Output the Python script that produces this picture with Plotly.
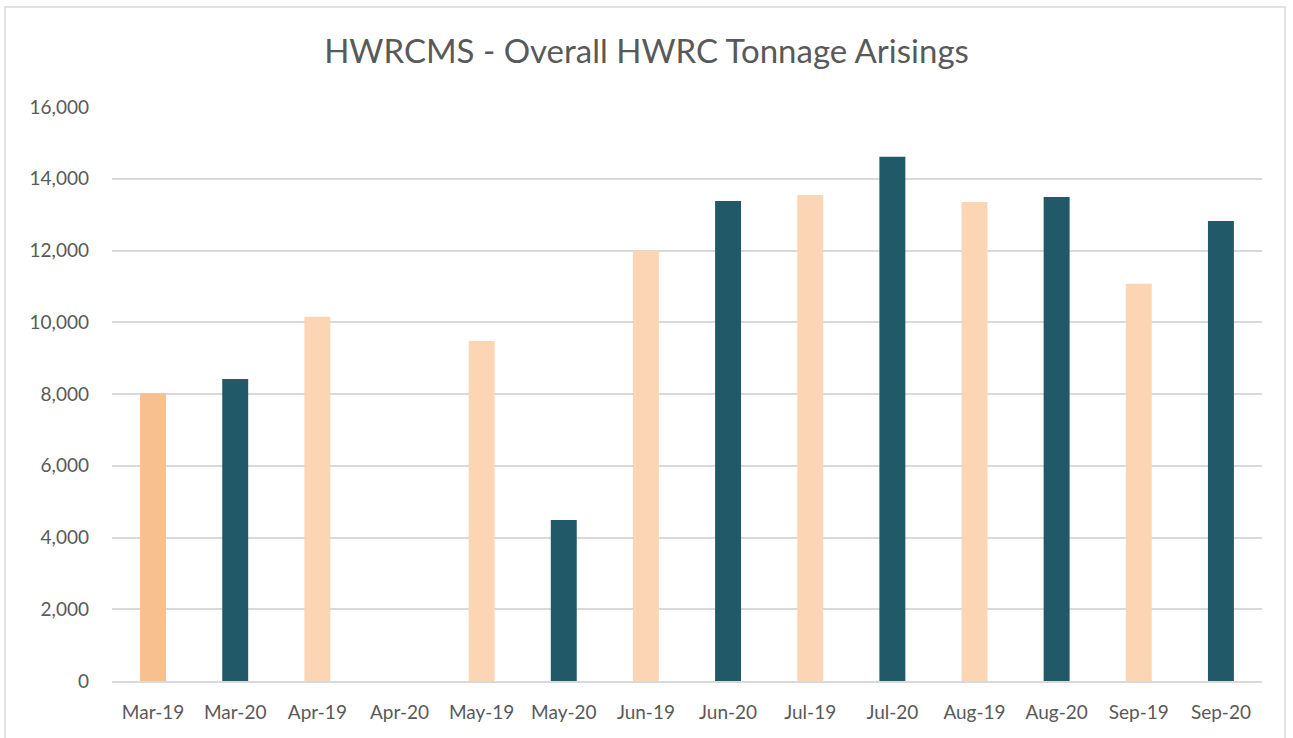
import plotly.graph_objects as go

categories = ["Mar-19", "Mar-20", "Apr-19", "Apr-20", "May-19", "May-20", "Jun-19",
              "Jun-20", "Jul-19", "Jul-20", "Aug-19", "Aug-20", "Sep-19", "Sep-20"]
values = [8020, 8420, 10150, 0, 9480, 4490, 11990, 13380, 13550, 14610, 13350, 13490, 11070, 12820]
bar_colors = ["#F9C08F", "#215968", "#FCD5B5", "#215968", "#FCD5B5", "#215968", "#FCD5B5",
              "#215968", "#FCD5B5", "#215968", "#FCD5B5", "#215968", "#FCD5B5", "#215968"]
y_ticks = [0, 2000, 4000, 6000, 8000, 10000, 12000, 14000, 16000]

fig = go.Figure(go.Bar(x=categories, y=values, marker=dict(color=bar_colors, line=dict(width=0)),
                       width=0.316))

font_family = "Lato, 'Open Sans', sans-serif"
fig.update_layout(
    width=1293, height=738,
    margin=dict(l=112, r=31, t=107, b=57),
    paper_bgcolor="white", plot_bgcolor="white",
    showlegend=False,
    title=dict(text="HWRCMS - Overall HWRC Tonnage Arisings", x=0.5, xanchor="center",
               y=0.93, yanchor="middle",
               font=dict(family=font_family, size=33, color="#595959")),
    font=dict(family=font_family, size=19, color="#595959"),
)
fig.update_yaxes(range=[0, 16000], tickvals=y_ticks, tickformat=",", showgrid=True,
                 gridcolor="#D9D9D9", gridwidth=1.5, zeroline=False, showline=False,
                 ticks="", ticklabelstandoff=22, tickfont=dict(size=19, color="#595959"))
fig.update_xaxes(showgrid=False, showline=True, linecolor="#D9D9D9", linewidth=1.5,
                 ticks="", tickfont=dict(size=19, color="#595959"), ticklabelstandoff=13)
fig.add_shape(type="rect", xref="paper", yref="paper",
              x0=-107/1150, x1=1 + 23/1150, y0=-60/574, y1=1 + 100/574,
              line=dict(color="#D9D9D9", width=1.5), fillcolor="rgba(0,0,0,0)", layer="below")
fig.write_html("out.html", config={"displayModeBar": False},
               post_script="document.body.style.margin='0';document.body.style.padding='0';")
